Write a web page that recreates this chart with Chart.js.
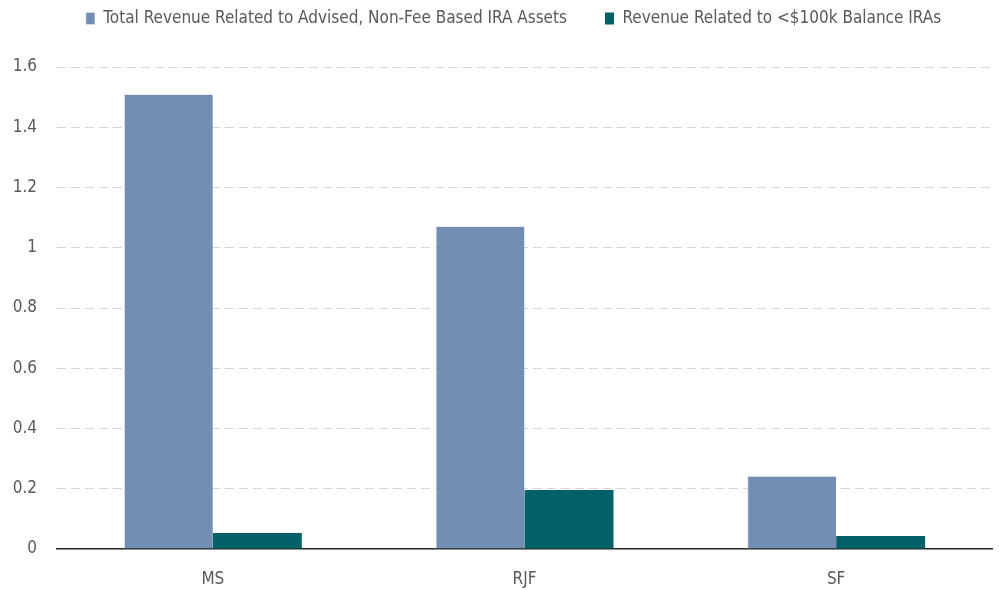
<!DOCTYPE html>
<html>
<head>
<meta charset="utf-8">
<script src="https://cdn.jsdelivr.net/npm/chart.js@4"></script>
<style>
  html, body { margin: 0; padding: 0; background: #fff; }
  #wrap { width: 1000px; height: 590px; }
</style>
</head>
<body>
<div id="wrap"><canvas id="chart" width="1000" height="590"></canvas></div>
<script>
// datos del gráfico
const categories = ['MS', 'RJF', 'SF'];
const totalRevenue = [1.51, 1.072, 0.243];
const smallIraRevenue = [0.053, 0.196, 0.043];
const seriesNames = [
  'Total Revenue Related to Advised, Non-Fee Based IRA Assets',
  'Revenue Related to <$100k Balance IRAs'
];
const yTicks = [0, 0.2, 0.4, 0.6, 0.8, 1, 1.2, 1.4, 1.6];

const fontFamily = '"Liberation Sans Narrow", "DejaVu Sans Condensed", sans-serif';
const textColor = '#595959';

// alto fijo de la leyenda y un pequeño corrimiento a la derecha
const legendHeight = {
  id: 'legendHeight',
  beforeInit(chart) {
    const fit = chart.legend.fit;
    chart.legend.fit = function () {
      fit.bind(chart.legend)();
      this.height = 95;
    };
  },
  afterLayout(chart) {
    chart.legend.left += 35;
  }
};

const ctx = document.getElementById('chart').getContext('2d');
new Chart(ctx, {
  type: 'bar',
  data: {
    labels: categories,
    datasets: [{
      label: seriesNames[0],
      data: totalRevenue,
      backgroundColor: '#728fb3',
      borderColor: '#e4eaf2',
      borderWidth: { top: 1, left: 1, right: 0, bottom: 0 },
      categoryPercentage: 0.571,
      barPercentage: 1
    }, {
      label: seriesNames[1],
      data: smallIraRevenue,
      backgroundColor: '#036066',
      borderWidth: 0,
      categoryPercentage: 0.571,
      barPercentage: 1
    }]
  },
  plugins: [legendHeight],
  options: {
    responsive: false,
    animation: false,
    layout: { padding: { left: 0, right: 8, top: -28, bottom: 0 } },
    plugins: {
      legend: {
        display: true,
        position: 'top',
        labels: {
          boxWidth: 9,
          boxHeight: 12,
          padding: 38,
          color: textColor,
          font: { family: fontFamily, size: 17 }
        }
      },
      tooltip: { enabled: false }
    },
    scales: {
      x: {
        grid: { display: false, drawTicks: false },
        border: { display: true, color: '#222', width: 1.5 },
        ticks: {
          color: textColor,
          padding: 20,
          font: { family: fontFamily, size: 17 }
        },
        afterFit(scale) { scale.height = 41; }
      },
      y: {
        min: 0,
        max: 1.6,
        afterBuildTicks(scale) {
          scale.ticks = yTicks.map(v => ({ value: v }));
        },
        grid: {
          color: ctx => ctx.tick.value === 0 ? 'rgba(0,0,0,0)' : '#d6d6d6',
          drawTicks: false,
          lineWidth: 1
        },
        border: { display: false, dash: [9, 5] },
        ticks: {
          color: textColor,
          padding: 20,
          font: { family: fontFamily, size: 17 },
          callback: v => String(v)
        },
        afterFit(scale) { scale.width = 57; }
      }
    }
  }
});
</script>
</body>
</html>
